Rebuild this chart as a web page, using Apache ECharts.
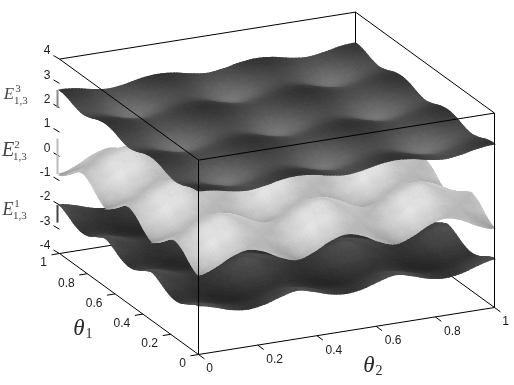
<!DOCTYPE html>
<html><head><meta charset="utf-8">
<style>html,body{margin:0;padding:0;background:#fff}#c{width:514px;height:385px}</style>
<script src="https://cdn.jsdelivr.net/npm/echarts@6/dist/echarts.min.js"></script>
</head><body><div id="c"></div>
<script>
// Tick labels
const energyTicks = [-4,-3,-2,-1,0,1,2,3,4];
const theta1Ticks = [0,0.2,0.4,0.6,0.8,1];
const theta2Ticks = [0,0.2,0.4,0.6,0.8,1];
// Range of each band, as marked beside the energy axis
const bandRanges = [[2,2.73],[-0.73,0.73],[-2.73,-2]];
// Surface heights, read on a 19x19 lattice (theta step 1/18); rows repeat across the picture
const topA=[2.73,2.67,2.53,2.45,2.53,2.67,2.73,2.67,2.53,2.45,2.53,2.67,2.73,2.67,2.53,2.45,2.53,2.67,2.73];
const topB=[2.67,2.60,2.45,2.36,2.45,2.60,2.67,2.60,2.45,2.36,2.45,2.60,2.67,2.60,2.45,2.36,2.45,2.60,2.67];
const topC=[2.53,2.45,2.26,2.15,2.26,2.45,2.53,2.45,2.26,2.15,2.26,2.45,2.53,2.45,2.26,2.15,2.26,2.45,2.53];
const topD=[2.45,2.36,2.15,2.00,2.15,2.36,2.45,2.36,2.15,2.00,2.15,2.36,2.45,2.36,2.15,2.00,2.15,2.36,2.45];
const midA=[-0.73,-0.52,-0.17,0,-0.17,-0.52,-0.73,-0.52,-0.17,0,-0.17,-0.52,-0.73,-0.52,-0.17,0,-0.17,-0.52,-0.73];
const midB=[-0.52,-0.34,0,0.17,0,-0.34,-0.52,-0.34,0,0.17,0,-0.34,-0.52,-0.34,0,0.17,0,-0.34,-0.52];
const midC=[-0.17,0,0.34,0.52,0.34,0,-0.17,0,0.34,0.52,0.34,0,-0.17,0,0.34,0.52,0.34,0,-0.17];
const midD=[0,0.17,0.52,0.73,0.52,0.17,0,0.17,0.52,0.73,0.52,0.17,0,0.17,0.52,0.73,0.52,0.17,0];
const lowA=[-2,-2.15,-2.36,-2.45,-2.36,-2.15,-2,-2.15,-2.36,-2.45,-2.36,-2.15,-2,-2.15,-2.36,-2.45,-2.36,-2.15,-2];
const lowB=[-2.15,-2.26,-2.45,-2.53,-2.45,-2.26,-2.15,-2.26,-2.45,-2.53,-2.45,-2.26,-2.15,-2.26,-2.45,-2.53,-2.45,-2.26,-2.15];
const lowC=[-2.36,-2.45,-2.60,-2.67,-2.60,-2.45,-2.36,-2.45,-2.60,-2.67,-2.60,-2.45,-2.36,-2.45,-2.60,-2.67,-2.60,-2.45,-2.36];
const lowD=[-2.45,-2.53,-2.67,-2.73,-2.67,-2.53,-2.45,-2.53,-2.67,-2.73,-2.67,-2.53,-2.45,-2.53,-2.67,-2.73,-2.67,-2.53,-2.45];
const band3=[topA,topB,topC,topD,topC,topB,topA,topB,topC,topD,topC,topB,topA,topB,topC,topD,topC,topB,topA];
const band2=[midA,midB,midC,midD,midC,midB,midA,midB,midC,midD,midC,midB,midA,midB,midC,midD,midC,midB,midA];
const band1=[lowA,lowB,lowC,lowD,lowC,lowB,lowA,lowB,lowC,lowD,lowC,lowB,lowA,lowB,lowC,lowD,lowC,lowB,lowA];

// Fixed orthographic view of the (theta1, theta2, E) box on the picture plane
const project=(t1,t2,E)=>[198.5+296*t2-139*t1, 354.5-47*t2-101*t1-(E+4)*24.3];
const N=18, SUB=5;
const refl=i=>{ if(i<0) return -i; if(i>N) return 2*N-i; return i; };
function cr(a,b,c,d,t){ return 0.5*(2*b+(c-a)*t+(2*a-5*b+4*c-d)*t*t+(3*b-a-3*c+d)*t*t*t); }
function sample(g,u,v){
  const i=Math.min(Math.floor(u),N-1), j=Math.min(Math.floor(v),N-1), a=u-i, b=v-j, r=[];
  for(let k=-1;k<=2;k++){ const row=g[refl(i+k)];
    r.push(cr(row[refl(j-1)],row[refl(j)],row[refl(j+1)],row[refl(j+2)],b)); }
  return cr(r[0],r[1],r[2],r[3],a);
}
const shades={
  top:(e,g)=>118-66*e+5*g,
  mid:(e,g)=>152+46*Math.sqrt(Math.max(e,0))+28*Math.abs(g)+8*g,
  low:(e,g)=>38+36*e+10*Math.abs(g)
};
function surfaceSeries(name,g,shade){
  const vals=g.flat(), lo=Math.min(...vals), hi=Math.max(...vals), cells=[];
  for(let i=N-1;i>=0;i--) for(let j=N-1;j>=0;j--) cells.push([i,j]);
  return {type:'custom',name,coordinateSystem:'cartesian2d',silent:true,animation:false,progressive:0,clip:false,
    encode:{x:0,y:1},data:cells,
    renderItem(p,api){
      const i=api.value(0), j=api.value(1), children=[], st=1/SUB;
      const pt=(u,v)=>api.coord(project(u/N,v/N,sample(g,u,v)));
      for(let a=SUB-1;a>=0;a--) for(let b=SUB-1;b>=0;b--){
        const u=i+a*st, v=j+b*st, cu=u+st/2, cv=v+st/2;
        const E=sample(g,cu,cv);
        const du=(sample(g,Math.min(cu+.1,N),cv)-sample(g,Math.max(cu-.1,0),cv))/.2;
        const dv=(sample(g,cu,Math.min(cv+.1,N))-sample(g,cu,Math.max(cv-.1,0)))/.2;
        const gr=(du+dv)/((hi-lo)*.45), e=(E-lo)/(hi-lo);
        const c=Math.max(0,Math.min(255,Math.round(shade(e,gr)/4)*4));
        const col='rgb('+c+','+c+','+c+')';
        children.push({type:'polygon',shape:{points:[pt(u,v),pt(u+st,v),pt(u+st,v+st),pt(u,v+st)]},
          style:{fill:col,stroke:col,lineWidth:1.2}});
      }
      return {type:'group',children};
    }};
}
const lineEl=(a,b,stroke,w)=>({type:'line',shape:{x1:a[0],y1:a[1],x2:b[0],y2:b[1]},style:{stroke,lineWidth:w||1,fill:null}});
const textEl=(text,pos,font,fill,align)=>({type:'text',style:{text,x:pos[0],y:pos[1],font,fill,align:align||'center',verticalAlign:'middle'}});
const sans='12px "Liberation Sans", Arial, sans-serif';
function staticSeries(data,build){
  return {type:'custom',coordinateSystem:'cartesian2d',silent:true,animation:false,clip:false,progressive:0,
    data:data.map((d,i)=>[i]),encode:{x:0},
    renderItem(p,api){ return build(data[api.value(0)],api); }};
}
const at=(api,pt,dx,dy)=>{const c=api.coord(pt); return [c[0]+(dx||0),c[1]+(dy||0)];};

// Box edges: [t1,t2,E] pairs
const backEdges=[[[1,1,4],[1,1,-4]],[[1,0,-4],[1,1,-4]],[[1,1,-4],[0,1,-4]]];
const nearEdges=[[[0,0,4],[0,1,4]],[[0,0,4],[1,0,4]],[[1,0,4],[1,1,4]],[[1,1,4],[0,1,4]],
  [[0,0,4],[0,0,-4]],[[0,1,4],[0,1,-4]],[[0,0,-4],[0,1,-4]],[[0,0,-4],[1,0,-4]]];
const edgeBuild=(e,api)=>lineEl(api.coord(project(...e[0])),api.coord(project(...e[1])),'#000',1);

const option={
  animation:false,backgroundColor:'#fff',
  grid:{left:0,right:0,top:0,bottom:0},
  xAxis:{type:'value',min:0,max:514,show:false},
  yAxis:{type:'value',min:0,max:385,inverse:true,show:false},
  series:[
    staticSeries(backEdges,edgeBuild),
    surfaceSeries('E1',band1,shades.low),
    surfaceSeries('E2',band2,shades.mid),
    surfaceSeries('E3',band3,shades.top),
    staticSeries(nearEdges,edgeBuild),
    staticSeries(energyTicks,(v,api)=>{const a=at(api,project(1,0,v));
      return {type:'group',children:[lineEl(a,[a[0]-6,a[1]-3.5],'#000'),
        textEl(String(v),[a[0]-9,a[1]-8],sans,'#1a1a1a','right')]};}),
    staticSeries(theta1Ticks,(v,api)=>{const a=at(api,project(v,0,-4)), whole=v===0||v===1;
      return {type:'group',children:[lineEl(a,[a[0]-8,a[1]+1.3],'#000'),
        textEl(String(v),[a[0]+(whole?-16:-21),a[1]+9.5],sans,'#1a1a1a')]};}),
    staticSeries(theta2Ticks,(v,api)=>{const a=at(api,project(0,v,-4)), whole=v===0||v===1;
      return {type:'group',children:[lineEl(a,[a[0]+6,a[1]+4.4],'#000'),
        textEl(String(v),[a[0]+(whole?11:17),a[1]+14.5],sans,'#1a1a1a')]};}),
    staticSeries(bandRanges,(r,api)=>{const cols={2:'#888',[-0.73]:'#bbb',[-2.73]:'#444'};
      return lineEl(at(api,project(1,0,r[0]),-2),at(api,project(1,0,r[1]),-2),cols[r[0]],2);}),
    // Axis and band labels
    staticSeries([
      {b:'θ',s:'1',x:83,y:329},{b:'θ',s:'2',x:373,y:366},
    ],(d,api)=>({type:'group',children:[
      textEl(d.b,at(api,[d.x-4,d.y]),'italic 23px "Liberation Serif", serif','#2a2a2a'),
      textEl(d.s,at(api,[d.x+6,d.y+5]),'14px "Liberation Serif", serif','#2a2a2a')]})),
    staticSeries([
      {sup:'3',x:9,y:95,f:17},{sup:'2',x:8,y:151,f:20},{sup:'1',x:8,y:210,f:18}
    ],(d,api)=>({type:'group',children:[
      textEl('E',at(api,[d.x,d.y]),'italic '+d.f+'px "Liberation Serif", serif','#444'),
      textEl(d.sup,at(api,[d.x+9,d.y-6]),'11px "Liberation Serif", serif','#444','center'),
      textEl('1,3',at(api,[d.x+5,d.y+6]),'11px "Liberation Serif", serif','#444','left')]}))
  ]
};
echarts.init(document.getElementById('c'),null,{renderer:'canvas'}).setOption(option);
</script></body></html>
